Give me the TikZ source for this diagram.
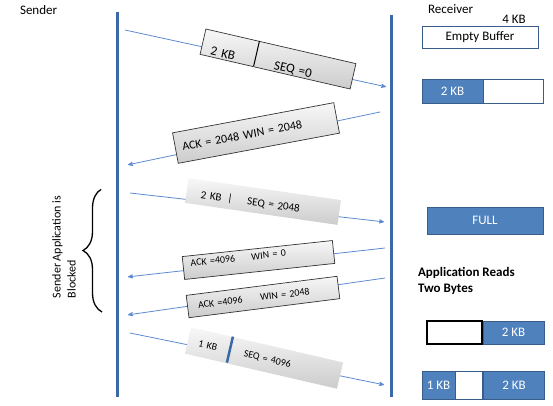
\documentclass[tikz,border=0pt]{standalone}
\usepackage{fontspec}
\setmainfont{Carlito}
\usepackage{tikz}
\usetikzlibrary{arrows,positioning,calc,decorations.pathreplacing}
\definecolor{lineblue}{HTML}{3B69A6}
\definecolor{arrowblue}{HTML}{5B8BD0}
\definecolor{bufblue}{HTML}{4F81BD}
\definecolor{bufedge}{HTML}{385D8A}
\newcommand{\fsz}[1]{\fontsize{#1}{#1}\selectfont}

\begin{document}
\begin{tikzpicture}[x=1pt,y=-1pt,>=stealth',shorten >=1pt,
							life/.style={draw=lineblue,line width=3pt},
							msg/.style={->,color=arrowblue,line width=0.8pt},
							segment/.style={rectangle,draw=black!80,line width=0.7pt,top color=gray!6,bottom color=gray!40,inner sep=0pt,align=left,text depth=0pt},
							plain segment/.style={segment,draw=none},
							buf/.style={rectangle,draw=bufedge,line width=0.8pt,inner sep=0pt,font=\fsz{13}},
							full/.style={buf,fill=bufblue,text=white},
							empty/.style={buf,fill=white},
							every node/.style={font=\fsz{13}}]
							
							\useasboundingbox (0,0) rectangle (553,406);
							
							\coordinate (l1) at (117,12);
							\coordinate (l2) at (117,398);
							\coordinate (l3) at (391,15);
							\coordinate (l4) at (391,398);
							\coordinate (s1) at (125,30);
							\coordinate (r1) at (387,87);
							\coordinate (r2) at (380,112);
							\coordinate (s2) at (127,165);
							\coordinate (s3) at (130,193);
							\coordinate (r3) at (385,222);
							\coordinate (r4) at (385,248);
							\coordinate (s4) at (127,277);
							\coordinate (r5) at (385,278);
							\coordinate (s5) at (127,315);
							\coordinate (s6) at (130,333);
							\coordinate (r6) at (385,385);
							\coordinate (k1) at (102,312);
							\coordinate (k2) at (102,189);
							
							\node[anchor=west] (snd) at (16.5,10) {Sender};
							\node[anchor=west] (rcv) at (424.5,9.5) {Receiver};
							\node[rotate=90,align=left,font=\fontsize{12}{15}\selectfont] (blk) at (64,247) {Sender Application is\\Blocked};
							
							\draw[life] (l1) -- (l2);
							\draw[life] (l3) -- (l4);
							\draw[decorate,decoration={brace,amplitude=19pt},line width=1.3pt] (k1) -- (k2);
							
							\path[msg] (s1) edge (r1)
								(r2) edge (s2)
								(s3) edge (r3)
								(r4) edge (s4)
								(r5) edge (s5)
								(s6) edge (r6);
							
							\node[segment,rotate=-13,text width=154pt,minimum height=26pt,text height=22pt] (m1) at (278,59) {\makebox[44pt]{2 KB}\makebox[100pt]{SEQ =0}};
							\node[segment,rotate=10.6,text width=164pt,minimum height=31pt,font=\fsz{12}] (m2) at (256,133) {\hspace*{7pt}ACK = 2048 WIN = 2048};
							\node[plain segment,rotate=-8.2,text width=154pt,minimum height=25pt,text height=11pt,font=\fsz{11}] (m3) at (263,201.5) {\hspace*{10pt}\makebox[30pt]{2 KB}\makebox[8pt]{|}\makebox[80pt]{SEQ = 2048}};
							\node[segment,rotate=6.1,text width=151pt,minimum height=23pt,text depth=8pt,font=\fsz{10}] (m4) at (258.5,260) {\makebox[60pt]{ACK =4096}\makebox[52pt]{WIN = 0}};
							\node[segment,rotate=7.2,text width=152pt,minimum height=22.5pt,font=\fsz{10}] (m5) at (263,297) {\makebox[66pt]{ACK =4096}\makebox[64pt]{WIN = 2048}};
							\node[plain segment,rotate=-13,text width=156pt,minimum height=27pt,font=\fsz{10}] (m6) at (264,358) {\makebox[41pt]{1 KB}\makebox[81pt]{SEQ = 4096}};
							
							\draw[black,line width=1pt] ($(m1.north west)!0.357!(m1.north east)$) -- ($(m1.south west)!0.357!(m1.south east)$);
							\draw[lineblue,line width=2.5pt] ($(m6.north west)!0.276!(m6.north east)$) -- ($(m6.south west)!0.276!(m6.south east)$);
							
							\node[empty,minimum width=116pt,minimum height=22pt] (b1) at (480,37) {Empty Buffer};
							\node (kb) at (514,19) {4 KB};
							\node[full,minimum width=61pt,minimum height=24pt] (b2) at (452.5,91) {2 KB};
							\node[empty,minimum width=60pt,minimum height=24pt,right=0pt of b2] (b3) {};
							\node[full,minimum width=116pt,minimum height=27pt] (b4) at (485,220.5) {FULL\hspace{32pt}};
							\node[anchor=west,align=left,font=\fontsize{13}{16}\selectfont\bfseries] (app) at (414.5,281) {Application Reads\\Two Bytes};
							\node[empty,draw=black,line width=1.3pt,minimum width=55pt,minimum height=23pt] (b5) at (454.5,332.5) {};
							\node[full,minimum width=61pt,minimum height=23pt,right=0pt of b5] (b6) {2 KB};
							\node[full,minimum width=33pt,minimum height=28pt] (b7) at (438.5,385) {1 KB};
							\node[empty,minimum width=27pt,minimum height=28pt,right=0pt of b7] (b8) {};
							\node[full,minimum width=61pt,minimum height=28pt,right=0pt of b8] (b9) {2 KB};
\end{tikzpicture}
\end{document}
